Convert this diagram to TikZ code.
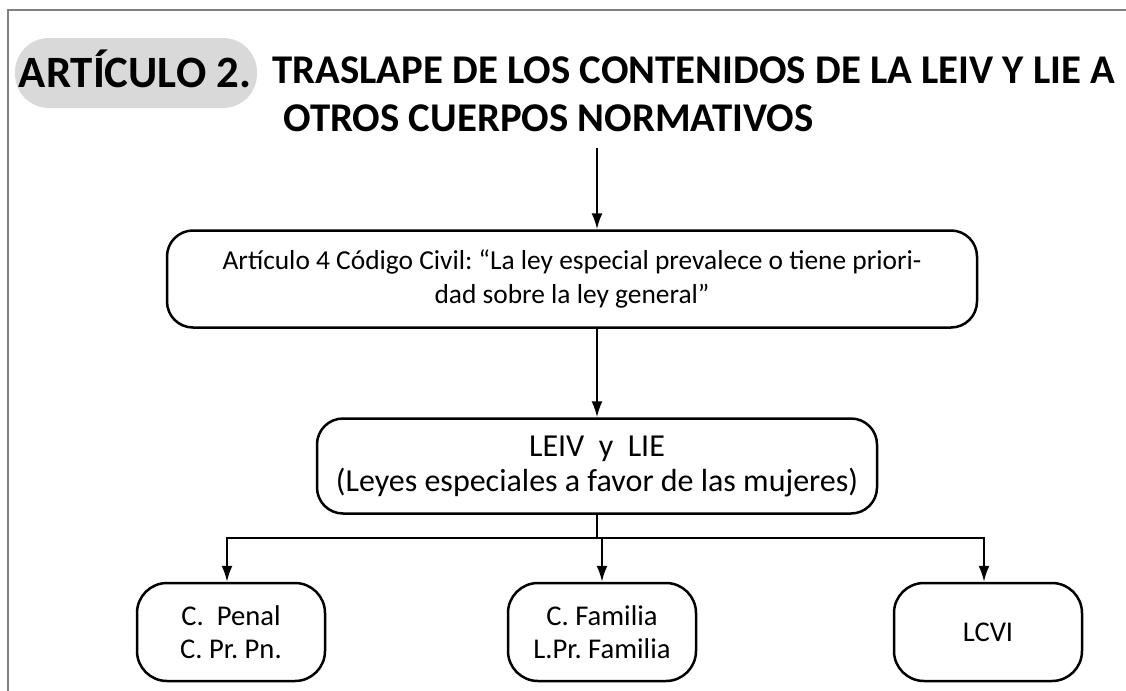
\documentclass[tikz,border=0pt]{standalone}
\usepackage{fontspec}
\setmainfont{Carlito}
\usepackage{tikz}
\usetikzlibrary{arrows.meta}
\definecolor{pillgray}{RGB}{217,217,217}
\definecolor{framegray}{RGB}{128,128,128}
\frenchspacing

\begin{document}
\begin{tikzpicture}[x=0.5pt,y=-0.5pt,>={Latex[length=8pt,width=5.5pt]},
  lawbox/.style={draw,line width=1.25pt,rounded corners=13pt,align=center,inner sep=0pt},
  smallbox/.style={lawbox,rounded corners=15pt,minimum width=94pt,minimum height=49pt,font=\fontsize{14.3}{16.5}\selectfont},
  heading/.style={anchor=base west,inner sep=0pt,font=\bfseries\fontsize{20.4}{24}\selectfont},
  link/.style={->,line width=1pt}]
\useasboundingbox (0,0) rectangle (1126,691);
\draw[framegray,line width=1pt] (8,691) -- (8,10) -- (1126,10);
% heading
\node[fill=pillgray,rounded corners=17pt,minimum width=121pt,minimum height=35pt] (pill) at (136,73) {};
\node[font=\bfseries\fontsize{22.4}{26}\selectfont,inner sep=0pt] (art) at (135,69) {ARTÍCULO 2.};
\node[heading] (titleA) at (272,83) {TRASLAPE DE LOS CONTENIDOS DE LA LEIV Y LIE A};
\node[heading] (titleB) at (283,131) {OTROS CUERPOS NORMATIVOS};
\coordinate (start) at (597,148);
% boxes
\node[lawbox,minimum width=405pt,minimum height=48.5pt,font=\fontsize{13.7}{17}\selectfont] (civil) at (572,279)
  {Artículo 4 Código Civil: “La ley especial prevalece o tiene priori-\\dad sobre la ley general”};
\node[lawbox,minimum width=280pt,minimum height=47.5pt,font=\fontsize{16}{17.5}\selectfont] (leiv) at (597,466)
  {LEIV\ \ y\ \ LIE\\(Leyes especiales a favor de las mujeres)};
\node[smallbox] (penal) at (231,632) {C.\ \ Penal\\C. Pr. Pn.};
\node[smallbox] (familia) at (602,632) {C. Familia\\L.Pr. Familia};
\node[smallbox] (lcvi) at (988,632) {LCVI};
\coordinate (split) at (597,538);
% connectors
\draw[link] (start) -- (start |- civil.north);
\draw[link] (start |- civil.south) -- (leiv.north);
\draw[line width=1pt] (leiv.south) -- (split);
\draw[link] (split) -| ([xshift=-2pt]penal.north);
\draw[link] (split) -- (split -| familia.north) -- (familia.north);
\draw[link] (split) -| ([xshift=-2pt]lcvi.north);
\end{tikzpicture}
\end{document}
